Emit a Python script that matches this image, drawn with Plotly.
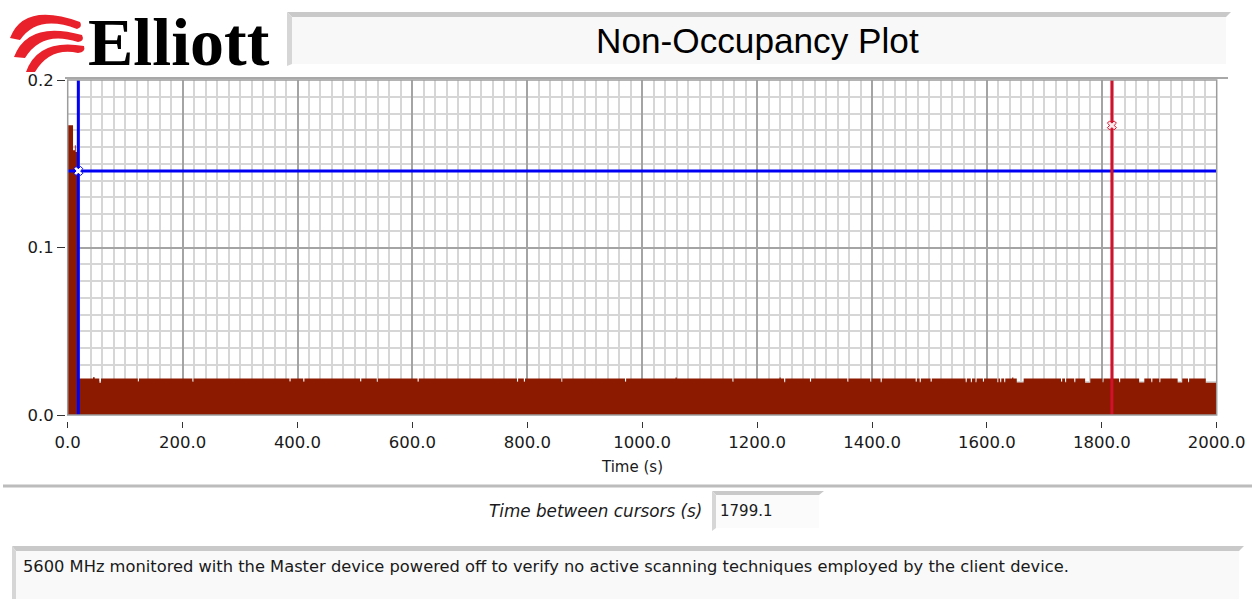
import plotly.graph_objects as go

# ---------------- data ----------------
# initial spike segments (time s, non-occupancy value)
spike_t = [0.0, 9.3, 12.5, 14.0]
spike_v = [0.173, 0.158, 0.161, 0.157]
start_base_t = 18.5
base_level = 0.0218

# narrow dips in the steady level (start, end, value)
dip_start = [55, 122, 217, 386, 410, 509, 538, 609, 782, 794, 859, 970, 1157, 1247,
             1292, 1357, 1397, 1415, 1476, 1483, 1502, 1563, 1572, 1580, 1593, 1618,
             1623, 1630, 1652, 1729, 1736, 1752, 1771, 1801, 1830, 1865, 1886, 1900,
             1932, 1950]
dip_end = [58, 124, 219, 388, 412, 511, 540, 611, 784, 796, 861, 972, 1159, 1249,
           1294, 1359, 1399, 1417, 1478, 1485, 1504, 1565, 1574, 1582, 1595, 1620,
           1625, 1632, 1664, 1731, 1738, 1754, 1780, 1803, 1832, 1874, 1888, 1902,
           1940, 1952]
dip_value = [0.0192, 0.0200, 0.0198, 0.0200, 0.0198, 0.0200, 0.0198, 0.0198, 0.0198,
             0.0198, 0.0198, 0.0198, 0.0198, 0.0196, 0.0198, 0.0198, 0.0198, 0.0196,
             0.0198, 0.0196, 0.0198, 0.0196, 0.0196, 0.0196, 0.0198, 0.0196, 0.0196,
             0.0196, 0.0194, 0.0198, 0.0196, 0.0196, 0.0193, 0.0196, 0.0196, 0.0194,
             0.0196, 0.0196, 0.0194, 0.0196]
# small upward bumps (start, end, value)
bump_start = [44, 1058, 1239, 1644]
bump_end = [47, 1060, 1241, 1646]
bump_value = [0.0226, 0.0224, 0.0224, 0.0224]
end_step_t = 1981
end_step_v = 0.0192
end_t = 2000

cursor1 = {"t": 18.5, "v": 0.1457}
cursor2 = {"t": 1817.6, "v": 0.1729}

x_ticks = [0, 200, 400, 600, 800, 1000, 1200, 1400, 1600, 1800, 2000]
y_ticks = [0.0, 0.1, 0.2]

# ---------------- build step series ----------------
xs = list(spike_t)
ys = list(spike_v)
xs.append(start_base_t)
ys.append(base_level)
events = [(s, e, v) for s, e, v in zip(dip_start, dip_end, dip_value)]
events += [(s, e, v) for s, e, v in zip(bump_start, bump_end, bump_value)]
events.sort()
for s, e, v in events:
    xs += [s, e]
    ys += [v, base_level]
xs += [end_step_t, end_t]
ys += [end_step_v, end_step_v]

W, H = 1252, 599
def px(x):
    return x / W
def py(y):
    return 1 - y / H
def path(points):
    return "M " + " L ".join(f"{px(a):.5f},{py(b):.5f}" for a, b in points) + " Z"
def qpath(cmds):
    out = []
    for c in cmds:
        if c[0] == "M":
            out.append(f"M {px(c[1]):.5f},{py(c[2]):.5f}")
        elif c[0] == "Q":
            out.append(f"Q {px(c[1]):.5f},{py(c[2]):.5f} {px(c[3]):.5f},{py(c[4]):.5f}")
        elif c[0] == "Z":
            out.append("Z")
    return " ".join(out)

fig = go.Figure()
fig.add_trace(go.Scatter(x=xs, y=ys, mode="lines", line=dict(width=0, shape="hv"),
                         fill="tozeroy", fillcolor="#8b1a00", hoverinfo="skip",
                         showlegend=False))
# cursor 1 (blue)
fig.add_trace(go.Scatter(x=[0, end_t], y=[cursor1["v"], cursor1["v"]], mode="lines",
                         line=dict(color="#0000f4", width=3), showlegend=False))
fig.add_trace(go.Scatter(x=[cursor1["t"], cursor1["t"]], y=[0, 0.2], mode="lines",
                         line=dict(color="#0000f4", width=3), showlegend=False))
fig.add_trace(go.Scatter(x=[cursor1["t"]], y=[cursor1["v"]], mode="markers",
                         marker=dict(symbol="x", size=8, color="#ffffff",
                                     line=dict(color="#0000f4", width=1)),
                         showlegend=False))
# cursor 2 (red)
fig.add_trace(go.Scatter(x=[cursor2["t"], cursor2["t"]], y=[0, 0.2], mode="lines",
                         line=dict(color="#d4112b", width=3), showlegend=False))
fig.add_trace(go.Scatter(x=[cursor2["t"]], y=[cursor2["v"]], mode="markers",
                         marker=dict(symbol="x", size=8, color="#ffe8ea",
                                     line=dict(color="#d4112b", width=1)),
                         showlegend=False))

x0p, x1p, y0p, y1p = 67.7, 1216.7, 80, 415
tickfont = dict(family="DejaVu Sans", size=16.5, color="#1a1a1a")

fig.update_layout(
    template="none",
    width=W, height=H, autosize=False,
    margin=dict(l=0, r=0, t=0, b=0, pad=0),
    paper_bgcolor="white", plot_bgcolor="white",
    xaxis=dict(domain=[px(x0p), px(x1p)], range=[0, 2000], tickvals=x_ticks,
               tickformat=".1f", ticks="outside", ticklen=6, tickwidth=1,
               tickcolor="#333", tickfont=tickfont, anchor="free",
               position=py(421), showline=False, zeroline=False, automargin=False,
               ticklabeloverflow="allow",
               showgrid=True, gridcolor="#a4a4a4", gridwidth=1.5,
               minor=dict(dtick=20, tick0=0, showgrid=True, gridcolor="#d6d6d6",
                          gridwidth=2, ticks=""),
               fixedrange=True),
    yaxis=dict(domain=[py(y1p), py(y0p)], range=[0, 0.2], tickvals=y_ticks,
               tickformat=".1f", ticks="outside", ticklen=8, tickwidth=1,
               tickcolor="#333", tickfont=tickfont, anchor="free",
               position=px(65), showline=False, zeroline=False, automargin=False,
               ticklabeloverflow="allow",
               showgrid=True, gridcolor="#a4a4a4", gridwidth=1.5,
               minor=dict(dtick=0.01, tick0=0, showgrid=True, gridcolor="#d6d6d6",
                          gridwidth=2, ticks=""),
               fixedrange=True),
)

shapes = []
# plot frame
shapes.append(dict(type="rect", xref="paper", yref="paper", x0=px(x0p), x1=px(x1p),
                   y0=py(y1p), y1=py(y0p), line=dict(color="#9c9c9c", width=1.5),
                   layer="above"))
# separator line below title
shapes.append(dict(type="line", xref="paper", yref="paper", x0=px(65), x1=px(1228),
                   y0=py(78), y1=py(78), line=dict(color="#a8a8a8", width=2)))
# title box
shapes.append(dict(type="path", xref="paper", yref="paper",
                   path=path([(287, 12), (1231, 12), (1226, 17), (292, 17)]),
                   fillcolor="#c9c9c9", line=dict(width=0)))
shapes.append(dict(type="path", xref="paper", yref="paper",
                   path=path([(287, 12), (292, 17), (292, 64), (287, 66)]),
                   fillcolor="#d6d6d6", line=dict(width=0)))
shapes.append(dict(type="rect", xref="paper", yref="paper", x0=px(292), x1=px(1226),
                   y0=py(64), y1=py(17), fillcolor="#f8f8f8", line=dict(width=0)))
# separator above cursor readout
shapes.append(dict(type="line", xref="paper", yref="paper", x0=px(3), x1=px(1252),
                   y0=py(486), y1=py(486), line=dict(color="#bcbcbc", width=3)))
# value box
shapes.append(dict(type="path", xref="paper", yref="paper",
                   path=path([(712, 491), (824, 491), (819, 495), (716, 495)]),
                   fillcolor="#c9c9c9", line=dict(width=0)))
shapes.append(dict(type="path", xref="paper", yref="paper",
                   path=path([(712, 491), (716, 495), (716, 528), (712, 531)]),
                   fillcolor="#d6d6d6", line=dict(width=0)))
shapes.append(dict(type="rect", xref="paper", yref="paper", x0=px(716), x1=px(819),
                   y0=py(528), y1=py(495), fillcolor="#fbfbfb", line=dict(width=0)))
# description box
shapes.append(dict(type="path", xref="paper", yref="paper",
                   path=path([(12, 546), (1244, 546), (1239, 551), (16, 551)]),
                   fillcolor="#c9c9c9", line=dict(width=0)))
shapes.append(dict(type="path", xref="paper", yref="paper",
                   path=path([(12, 546), (16, 551), (16, 599), (12, 599)]),
                   fillcolor="#d6d6d6", line=dict(width=0)))
shapes.append(dict(type="rect", xref="paper", yref="paper", x0=px(16), x1=px(1239),
                   y0=py(599), y1=py(551), fillcolor="#f9f9f9", line=dict(width=0)))
# logo swirls
red = "#e8212b"
swirls = [
    [("M", 10, 38), ("Q", 24, 2, 80, 22), ("Q", 83, 27, 77, 29), ("Q", 38, 14, 20, 40), ("Z",)],
    [("M", 14, 57), ("Q", 28, 20, 82, 35), ("Q", 85, 41, 78, 42), ("Q", 42, 30, 25, 58), ("Z",)],
    [("M", 26, 72), ("Q", 38, 38, 84, 46), ("Q", 86, 52, 78, 53), ("Q", 50, 47, 35, 72), ("Z",)],
]
for s in swirls:
    shapes.append(dict(type="path", xref="paper", yref="paper", path=qpath(s),
                       fillcolor=red, line=dict(width=0)))
fig.update_layout(shapes=shapes)

ann = []
ann.append(dict(text="<b>Elliott</b>", x=px(86), y=py(42), xref="paper", yref="paper",
                xanchor="left", yanchor="middle", showarrow=False,
                font=dict(family="Liberation Serif", size=68, color="black")))
ann.append(dict(text="Non-Occupancy Plot", x=px(757), y=py(41), xref="paper", yref="paper",
                xanchor="center", yanchor="middle", showarrow=False,
                font=dict(family="Liberation Sans", size=35.2, color="black")))
ann.append(dict(text="Time (s)", x=px(632), y=py(467), xref="paper", yref="paper",
                xanchor="center", yanchor="middle", showarrow=False,
                font=dict(family="DejaVu Sans", size=15, color="#1a1a1a")))
ann.append(dict(text="<i>Time between cursors (s)</i>", x=px(704), y=py(511),
                xref="paper", yref="paper", xanchor="right", yanchor="middle",
                showarrow=False, font=dict(family="DejaVu Sans", size=16.8, color="#1a1a1a")))
ann.append(dict(text=f"{cursor2['t'] - cursor1['t']:.1f}", x=px(718), y=py(511),
                xref="paper", yref="paper", xanchor="left", yanchor="middle",
                showarrow=False, font=dict(family="DejaVu Sans", size=15, color="#1a1a1a")))
ann.append(dict(text="5600 MHz monitored with the Master device powered off to verify no active "
                     "scanning techniques employed by the client device.",
                x=px(21), y=py(566), xref="paper", yref="paper", xanchor="left",
                yanchor="middle", showarrow=False,
                font=dict(family="DejaVu Sans", size=16.3, color="#1a1a1a")))
fig.update_layout(annotations=ann)

fig.write_html("out.html", config={"displayModeBar": False},
               post_script="document.body.style.margin='0px';")
